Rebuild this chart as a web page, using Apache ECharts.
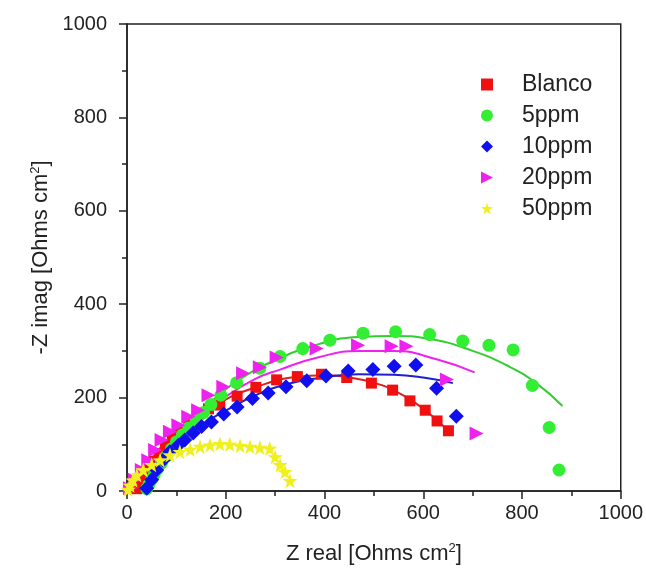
<!DOCTYPE html>
<html>
<head>
    <meta charset="utf-8"/>
    <title>Nyquist</title>
    <script src="https://cdn.jsdelivr.net/npm/echarts@6/dist/echarts.min.js"></script>
    <style>
        html, body { margin: 0; padding: 0; background: #fff; }
        #chart { width: 646px; height: 573px; }
    </style>
</head>
<body>
<div id="chart"></div>
<script type="text/javascript">
    // datos (Z real, -Z imag)
    var seriesNames = ['Blanco', '5ppm', '10ppm', '20ppm', '50ppm'];
    var xTicks = [0, 200, 400, 600, 800, 1000];
    var yTicks = [0, 200, 400, 600, 800, 1000];

    var blancoPts = [[20,5],[28,18],[36,32],[45,48],[55,64],[66,80],[78,97],[92,113],[107,130],[125,148],[145,165],[165,176],[188,184],[223,203],[261,222],[303,238],[345,245],[394,250],[445,243],[495,231],[538,216],[573,193],[604,173],[628,150],[651,129]];
    var ppm5Pts = [[40,5],[45,15],[50,25],[55,35],[62,48],[70,60],[80,75],[90,90],[100,105],[112,120],[125,135],[140,152],[155,168],[170,185],[190,205],[222,232],[269,263],[310,288],[356,305],[411,323],[478,338],[544,341],[613,335],[680,321],[733,312],[782,302],[821,226],[855,136],[875,45]];
    var ppm10Pts = [[40,6],[50,24],[60,45],[73,66],[87,84],[104,98],[117,109],[134,124],[151,138],[171,148],[196,165],[223,180],[254,198],[286,210],[322,223],[364,236],[403,246],[448,257],[498,260],[541,267],[585,270],[627,220],[667,160]];
    var ppm20Pts = [[6,6],[16,24],[30,45],[43,66],[57,88],[70,109],[87,127],[104,141],[124,159],[144,173],[165,205],[195,223],[235,252],[269,265],[303,286],[384,305],[468,312],[536,310],[566,310],[648,239],[708,123]];
    var ppm50Pts = [[2,3],[6,12],[12,23],[20,34],[33,45],[50,56],[67,66],[87,77],[107,84],[128,89],[148,95],[168,98],[188,101],[208,100],[229,97],[249,95],[269,93],[289,91],[300,73],[310,56],[320,41],[330,22]];

    // curvas de ajuste
    var blancoFit = [[20,0],[60,60],[120,140],[190,190],[260,222],[340,244],[400,248],[450,243],[500,232],[550,210],[600,176],[650,130]];
    var ppm5Fit = [[40,0],[60,40],[90,100],[130,150],[180,200],[230,240],[300,280],[390,315],[470,330],[540,332],[610,326],[700,300],[775,266],[830,230],[882,182]];
    var ppm10Fit = [[35,0],[60,45],[100,95],[150,140],[200,172],[260,205],[320,228],[390,242],[470,250],[540,249],[600,243],[660,231]];
    var ppm20Fit = [[10,0],[50,70],[120,145],[190,195],[256,238],[310,260],[390,287],[470,300],[540,300],[627,282],[704,254]];

    var colors = ['#f01010', '#33ee33', '#1010ee', '#ee22ee', '#f0f020'];
    var lineColors = ['#dd2020', '#33cc33', '#2020cc', '#ee22ee'];
    var symbols = [
        'rect',
        'circle',
        'diamond',
        'path://M0,0 L10,5 L0,10 Z',
        'path://M10,0 L12.35,6.76 L19.51,6.91 L13.8,11.24 L15.88,18.09 L10,14 L4.12,18.09 L6.2,11.24 L0.49,6.91 L7.65,6.76 Z'
    ];
    var sizes = [11, 13, 15, 14, 15];
    var pts = [blancoPts, ppm5Pts, ppm10Pts, ppm20Pts, ppm50Pts];
    var fits = [blancoFit, ppm5Fit, ppm10Fit, ppm20Fit];

    var series = [];
    fits.forEach(function (f, i) {
        series.push({
            type: 'line', data: f, smooth: true, showSymbol: false, silent: true,
            lineStyle: { color: lineColors[i], width: 2 }, z: 2
        });
    });
    pts.forEach(function (p, i) {
        series.push({
            name: seriesNames[i], type: 'scatter', data: p,
            symbol: symbols[i], symbolSize: sizes[i],
            itemStyle: { color: colors[i], opacity: 1 }, z: 3 + i
        });
    });

    var axisCommon = {
        min: 0, max: 1000, interval: 200,
        axisLine: { show: true, lineStyle: { color: '#222', width: 1.5 } },
        axisTick: { show: true, length: 8, lineStyle: { color: '#222', width: 1.5 } },
        minorTick: { show: true, splitNumber: 2, length: 5, lineStyle: { color: '#222', width: 1.5 } },
        splitLine: { show: false },
        axisLabel: { color: '#222', fontSize: 20, fontFamily: 'Liberation Sans', formatter: function (v) { return String(v); } },
        nameLocation: 'middle',
        nameTextStyle: {
            color: '#222', fontSize: 22, fontFamily: 'Liberation Sans',
            rich: { sup: { fontSize: 13, verticalAlign: 'top', padding: [0, 0, 10, 0], color: '#222', fontFamily: 'Liberation Sans' } }
        }
    };

    var chart = echarts.init(document.getElementById('chart'));
    chart.setOption({
        backgroundColor: '#fff',
        animation: false,
        color: colors,
        grid: { left: 127, right: 25, top: 24, bottom: 82, show: true, borderColor: '#222', borderWidth: 1.5 },
        legend: {
            orient: 'vertical', left: 476, top: 68,
            data: seriesNames.map(function (n, i) {
                return { name: n, itemStyle: { color: colors[i] } };
            }),
            itemWidth: 12, itemHeight: 12, itemGap: 8,
            textStyle: { fontSize: 23, color: '#222', fontFamily: 'Liberation Sans', padding: [0, 0, 0, 24] }
        },
        xAxis: Object.assign({}, axisCommon, {
            type: 'value', name: 'Z real [Ohms cm{sup|2}]', nameGap: 51,
            axisLabel: Object.assign({}, axisCommon.axisLabel, { margin: 12 })
        }),
        yAxis: Object.assign({}, axisCommon, {
            type: 'value', name: '-Z imag [Ohms cm{sup|2}]', nameGap: 72,
            axisLabel: Object.assign({}, axisCommon.axisLabel, { margin: 20 })
        }),
        series: series
    });
</script>
</body>
</html>
